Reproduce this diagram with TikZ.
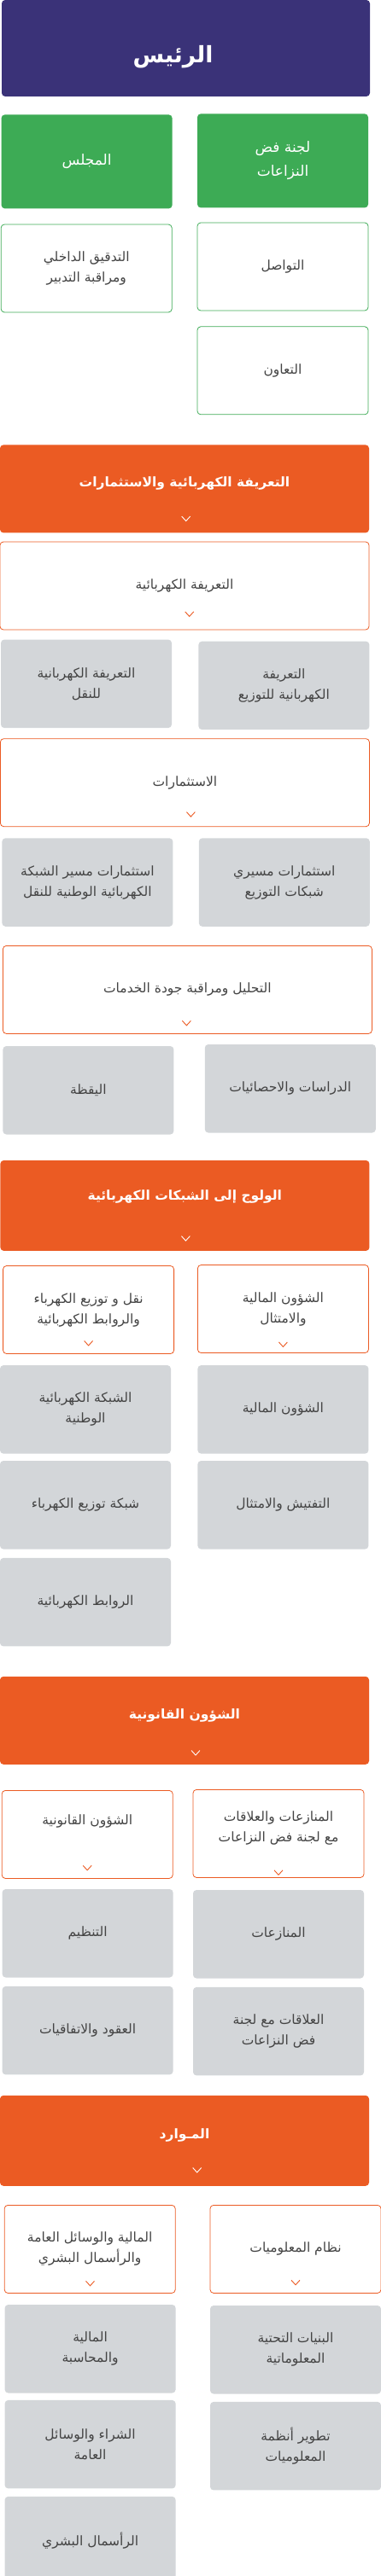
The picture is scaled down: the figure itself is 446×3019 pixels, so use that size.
\documentclass[tikz,border=0pt]{standalone}
\usepackage{fontspec}
\usepackage{tikz}
\usetikzlibrary{positioning, calc}
\newfontfamily\arabicfont[Script=Arabic]{DejaVu Sans}
\TeXXeTstate=1
\newcommand{\artext}[1]{\beginR #1\endR}
\definecolor{chiefpurple}{RGB}{58,50,120}
\definecolor{councilgreen}{RGB}{61,171,85}
\definecolor{sectororange}{RGB}{235,91,35}
\definecolor{unitgrey}{RGB}{211,214,217}
\definecolor{textgrey}{RGB}{68,68,68}
\tikzstyle{basebox} = [rectangle, rounded corners=4pt, minimum width=200pt, minimum height=103pt, inner sep=2pt, align=center, text=textgrey, font=\arabicfont\fontsize{15.5}{24}\selectfont]
\tikzstyle{chiefbox} = [basebox, fill=chiefpurple, text=white, minimum width=431pt, minimum height=113pt, text height=40pt, font=\arabicfont\bfseries\fontsize{26.5}{30}\selectfont]
\tikzstyle{councilbox} = [basebox, fill=councilgreen, text=white, minimum height=110pt, font=\arabicfont\fontsize{17}{28}\selectfont]
\tikzstyle{supportbox} = [basebox, draw=councilgreen, line width=0.8pt]
\tikzstyle{sectorbox} = [basebox, fill=sectororange, text=white, minimum width=432pt, text depth=16pt, font=\arabicfont\bfseries\fontsize{15.5}{20}\selectfont]
\tikzstyle{divisionbox} = [basebox, draw=sectororange, line width=0.8pt]
\tikzstyle{unitbox} = [basebox, fill=unitgrey, minimum height=103.5pt]
\tikzstyle{chevw} = [draw=white, line width=0.9pt]
\tikzstyle{chevo} = [draw=sectororange, line width=0.9pt]

\begin{document}
\begin{tikzpicture}
\useasboundingbox (0pt,0pt) rectangle (446pt,-3019pt);
% top of the chart
\node (chief) [chiefbox] at (217.5pt,-56.5pt) {\artext{الرئيس}\hspace*{30pt}};
\node (lajna) [councilbox, below=20pt of chief, xshift=113.5pt] {\artext{لجنة فض}\\\artext{النزاعات}};
\node (majlis) [councilbox, left=29pt of lajna, yshift=-1pt] {\artext{المجلس}};
\node (tawasul) [supportbox, below=17pt of lajna] {\artext{التواصل}};
\node (audit) [supportbox, left=29pt of tawasul, yshift=-2pt] {\artext{التدقيق الداخلي}\\\artext{ومراقبة التدبير}};
\node (taawun) [supportbox, below=18pt of tawasul] {\artext{التعاون}};

% tariff and investments
\node (head1) [sectorbox, below=35pt of taawun, xshift=-115pt] {\artext{التعريفة الكهربائية والاستثمارات}};
\node (tariff) [divisionbox, minimum width=432pt, below=10pt of head1] {\artext{التعريفة الكهربائية}};
\node (trTransport) [unitbox, below=11pt of tariff, xshift=-115pt] {\artext{التعريفة الكهربانية}\\\artext{للنقل}};
\node (trDistrib) [unitbox, right=31pt of trTransport, yshift=-2pt] {\artext{التعريفة}\\\artext{الكهربانية للتوزيع}};
\node (invest) [divisionbox, minimum width=432pt, below=10pt of trDistrib, xshift=-116pt] {\artext{الاستثمارات}};
\node (invTransport) [unitbox, below=13pt of invest, xshift=-114pt] {\artext{استثمارات مسير الشبكة}\\\artext{الكهربائية الوطنية للنقل}};
\node (invDistrib) [unitbox, right=30pt of invTransport] {\artext{استثمارات مسيري}\\\artext{شبكات التوزيع}};
\node (quality) [divisionbox, minimum width=432pt, below=22pt of invTransport, xshift=117pt] {\artext{التحليل ومراقبة جودة الخدمات}};
\node (watch) [unitbox, below=14pt of quality, xshift=-116pt] {\artext{اليقظة}};
\node (studies) [unitbox, right=36pt of watch, yshift=2pt] {\artext{الدراسات والاحصائيات}};

% access to the grids
\node (head2) [sectorbox, minimum height=106pt, text depth=24pt, below=30pt of watch, xshift=113pt] {\artext{الولوج إلى الشبكات الكهربائية}};
\node (finCompl) [divisionbox, below=16pt of head2, xshift=115pt] {\artext{الشؤون المالية}\\\artext{والامتثال}};
\node (netLinks) [divisionbox, left=27pt of finCompl, yshift=-1pt] {\artext{نقل و توزيع الكهرباء}\\\artext{والروابط الكهربائية}};
\node (finance) [unitbox, below=14pt of finCompl] {\artext{الشؤون المالية}};
\node (natGrid) [unitbox, left=31pt of finance] {\artext{الشبكة الكهربائية}\\\artext{الوطنية}};
\node (inspect) [unitbox, below=8pt of finance] {\artext{التفتيش والامتثال}};
\node (distGrid) [unitbox, left=31pt of inspect] {\artext{شبكة توزيع الكهرباء}};
\node (links) [unitbox, below=10pt of distGrid] {\artext{الروابط الكهربائية}};

% legal affairs
\node (head3) [sectorbox, below=35pt of links, xshift=116pt] {\artext{الشؤون القانونية}};
\node (disputes) [divisionbox, text depth=16pt, below=29pt of head3, xshift=110pt] {\artext{المنازعات والعلاقات}\\\artext{مع لجنة فض النزاعات}};
\node (legal) [divisionbox, text depth=34pt, left=23pt of disputes, yshift=-1pt] {\artext{الشؤون القانونية}};
\node (dispute) [unitbox, below=14pt of disputes] {\artext{المنازعات}};
\node (regulation) [unitbox, left=23pt of dispute, yshift=1pt] {\artext{التنظيم}};
\node (relations) [unitbox, below=10pt of dispute] {\artext{العلاقات مع لجنة}\\\artext{فض النزاعات}};
\node (contracts) [unitbox, left=23pt of relations, yshift=1pt] {\artext{العقود والاتفاقيات}};

% resources
\node (head4) [sectorbox, minimum height=106pt, below=23pt of relations, xshift=-110pt] {\artext{المـوارد}};
\node (infoSys) [divisionbox, below=22pt of head4, xshift=130pt] {\artext{نظام المعلوميات}};
\node (finRes) [divisionbox, left=40pt of infoSys] {\artext{المالية والوسائل العامة}\\\artext{والرأسمال البشري}};
\node (infra) [unitbox, below=14pt of infoSys] {\artext{البنيات التحتية}\\\artext{المعلوماتية}};
\node (accounting) [unitbox, left=40pt of infra, yshift=1pt] {\artext{المالية}\\\artext{والمحاسبة}};
\node (infoDev) [unitbox, below=9pt of infra] {\artext{تطوير أنظمة}\\\artext{المعلوميات}};
\node (purchase) [unitbox, left=40pt of infoDev, yshift=2pt] {\artext{الشراء والوسائل}\\\artext{العامة}};
\node (capital) [unitbox, below=9pt of purchase] {\artext{الرأسمال البشري}};

% chevrons
\draw [chevw] ($(head1.south)+(-3.3pt,19.5pt)$) -- ++(5pt,-5.5pt) -- ++(5pt,5.5pt);
\draw [chevo] ($(tariff.south)+(0.7pt,21.5pt)$) -- ++(5pt,-5.5pt) -- ++(5pt,5.5pt);
\draw [chevo] ($(invest.south)+(2pt,17.5pt)$) -- ++(5pt,-5.5pt) -- ++(5pt,5.5pt);
\draw [chevo] ($(quality.south)+(-6pt,15.5pt)$) -- ++(5pt,-5.5pt) -- ++(5pt,5.5pt);
\draw [chevw] ($(head2.south)+(-4pt,17.5pt)$) -- ++(5pt,-5.5pt) -- ++(5pt,5.5pt);
\draw [chevo] ($(netLinks.south)+(-5pt,15.5pt)$) -- ++(5pt,-5.5pt) -- ++(5pt,5.5pt);
\draw [chevo] ($(finCompl.south)+(-5pt,13pt)$) -- ++(5pt,-5.5pt) -- ++(5pt,5.5pt);
\draw [chevw] ($(head3.south)+(8pt,16.5pt)$) -- ++(5pt,-5.5pt) -- ++(5pt,5.5pt);
\draw [chevo] ($(legal.south)+(-5pt,15.5pt)$) -- ++(5pt,-5.5pt) -- ++(5pt,5.5pt);
\draw [chevo] ($(disputes.south)+(-5pt,9pt)$) -- ++(5pt,-5.5pt) -- ++(5pt,5.5pt);
\draw [chevw] ($(head4.south)+(9.7pt,21.5pt)$) -- ++(5pt,-5.5pt) -- ++(5pt,5.5pt);
\draw [chevo] ($(finRes.south)+(-4.7pt,14.5pt)$) -- ++(5pt,-5.5pt) -- ++(5pt,5.5pt);
\draw [chevo] ($(infoSys.south)+(-5pt,15.5pt)$) -- ++(5pt,-5.5pt) -- ++(5pt,5.5pt);
\end{tikzpicture}
\end{document}
